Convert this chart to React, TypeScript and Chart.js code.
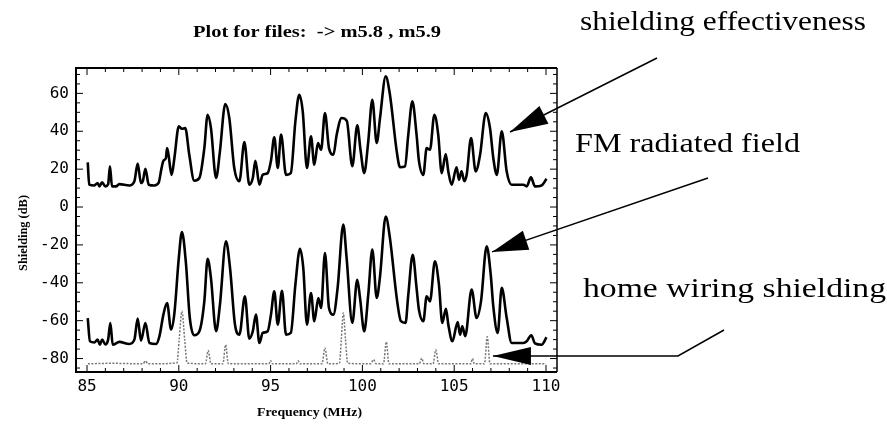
import React, { useEffect, useRef } from 'react';
import { Chart, registerables } from 'chart.js';

Chart.register(...registerables);

// ---- data (frequency in MHz, level in dB) ----
const seFreq = [85.04, 85.12, 85.4, 85.58, 85.67, 85.82, 86.0, 86.15, 86.25, 86.36, 86.58, 86.76, 87.3, 87.58, 87.76, 87.94, 88.05, 88.18, 88.36, 88.67, 88.9, 89.05, 89.16, 89.3, 89.36, 89.45, 89.52, 89.61, 89.76, 90.0, 90.17, 90.35, 90.57, 90.84, 91.12, 91.39, 91.57, 91.75, 92.03, 92.24, 92.53, 92.75, 93.02, 93.3, 93.57, 93.84, 94.03, 94.17, 94.39, 94.57, 94.84, 95.02, 95.2, 95.39, 95.57, 95.84, 96.1, 96.35, 96.56, 96.75, 96.98, 97.2, 97.38, 97.58, 97.75, 97.96, 98.18, 98.42, 98.6, 98.87, 99.15, 99.45, 99.72, 99.9, 100.1, 100.32, 100.54, 100.78, 100.96, 101.27, 101.5, 101.87, 102.05, 102.32, 102.5, 102.72, 102.95, 103.08, 103.32, 103.5, 103.68, 103.92, 104.13, 104.32, 104.54, 104.68, 104.86, 105.13, 105.26, 105.4, 105.55, 105.68, 105.92, 106.17, 106.41, 106.72, 106.95, 107.13, 107.32, 107.59, 107.86, 108.13, 108.77, 108.95, 109.18, 109.4, 109.76, 110.03];
const seDb = [23.6, 11.8, 11.4, 12.7, 10.9, 13.0, 10.9, 12.0, 21.5, 10.9, 10.9, 12.1, 11.4, 13.6, 22.9, 12.7, 14.0, 20.2, 11.8, 11.4, 12.7, 20.0, 24.4, 26.0, 31.1, 27.0, 21.5, 17.0, 25.9, 42.6, 41.3, 41.7, 27.6, 13.9, 15.3, 31.1, 48.7, 41.7, 15.3, 29.4, 54.4, 47.0, 20.6, 13.6, 34.3, 11.8, 15.3, 24.4, 11.8, 17.0, 17.9, 24.4, 36.8, 20.6, 38.2, 17.0, 17.9, 45.2, 59.3, 50.5, 20.6, 37.3, 22.3, 33.8, 30.2, 49.6, 31.1, 27.6, 38.2, 47.0, 45.5, 21.5, 43.1, 30.0, 17.9, 34.7, 56.6, 33.8, 47.0, 69.0, 59.3, 29.4, 21.0, 21.5, 38.2, 55.8, 38.2, 24.4, 17.0, 31.1, 30.2, 48.7, 38.2, 17.9, 28.0, 18.8, 11.8, 21.0, 14.4, 18.8, 13.6, 17.0, 36.4, 18.8, 27.6, 49.6, 41.7, 25.9, 17.0, 40.0, 18.8, 11.8, 11.8, 10.9, 15.7, 10.9, 11.4, 14.9];

const fmFreq = [85.04, 85.16, 85.4, 85.58, 85.7, 85.82, 86.0, 86.15, 86.27, 86.4, 86.76, 87.3, 87.58, 87.76, 87.94, 88.18, 88.4, 88.76, 88.95, 89.16, 89.36, 89.58, 89.76, 90.0, 90.17, 90.38, 90.6, 90.84, 91.12, 91.39, 91.57, 91.75, 92.03, 92.24, 92.57, 92.79, 93.06, 93.3, 93.6, 93.84, 94.03, 94.2, 94.39, 94.57, 94.84, 95.02, 95.2, 95.39, 95.62, 95.84, 96.1, 96.35, 96.6, 96.78, 96.98, 97.2, 97.38, 97.6, 97.75, 97.96, 98.18, 98.42, 98.65, 98.96, 99.14, 99.45, 99.72, 99.87, 100.1, 100.32, 100.54, 100.78, 100.96, 101.27, 101.5, 101.87, 102.1, 102.35, 102.5, 102.74, 102.95, 103.08, 103.32, 103.5, 103.68, 103.95, 104.17, 104.35, 104.55, 104.68, 104.9, 105.19, 105.32, 105.44, 105.6, 105.95, 106.22, 106.46, 106.77, 106.99, 107.13, 107.37, 107.59, 107.86, 108.13, 108.77, 108.95, 109.2, 109.4, 109.76, 110.03];
const fmDb = [-58.6, -70.9, -71.5, -70.0, -72.7, -70.0, -72.5, -70.0, -61.2, -72.7, -71.2, -72.3, -70.0, -58.9, -70.6, -61.2, -71.8, -72.3, -68.0, -56.8, -50.7, -64.7, -56.0, -26.9, -13.2, -28.7, -58.6, -67.7, -65.6, -49.8, -27.3, -37.5, -65.6, -51.5, -18.1, -32.2, -62.1, -67.4, -47.1, -69.5, -65.6, -56.8, -71.8, -66.5, -65.6, -56.8, -44.5, -62.1, -44.2, -67.4, -66.5, -41.0, -22.0, -32.2, -62.1, -45.4, -60.3, -48.0, -53.3, -24.3, -53.3, -56.8, -42.7, -9.3, -26.9, -61.2, -38.4, -48.0, -65.6, -46.3, -22.5, -48.0, -36.6, -5.0, -16.4, -48.0, -60.3, -61.2, -46.3, -25.2, -42.7, -54.2, -60.3, -47.1, -49.8, -28.7, -41.0, -61.2, -53.7, -62.1, -70.9, -60.7, -67.4, -63.0, -68.2, -43.6, -58.6, -49.8, -20.7, -35.7, -52.4, -66.5, -42.7, -58.6, -71.8, -71.8, -70.9, -67.7, -72.0, -72.7, -68.8];

const hwFreq = [85.05, 86.3, 88.05, 88.18, 88.32, 89.9, 90.02, 90.17, 90.32, 90.45, 91.45, 91.6, 91.75, 92.4, 92.55, 92.7, 94.9, 95.0, 95.1, 96.4, 96.5, 96.6, 97.8, 97.96, 98.12, 98.75, 98.85, 98.96, 99.08, 99.2, 100.45, 100.6, 100.75, 101.15, 101.3, 101.45, 103.1, 103.23, 103.35, 103.85, 104.0, 104.15, 105.9, 106.0, 106.1, 106.65, 106.8, 106.95, 110.0];
const hwDb = [-82.8, -82.5, -82.8, -81.3, -82.8, -82.3, -70.0, -55.0, -70.0, -82.3, -82.8, -75.8, -82.8, -82.8, -72.7, -82.8, -82.8, -81.0, -82.8, -82.8, -81.2, -82.8, -82.8, -74.4, -82.8, -82.5, -70.0, -56.0, -70.0, -82.5, -82.8, -80.5, -82.8, -82.8, -71.2, -82.8, -82.8, -79.8, -82.8, -82.8, -75.4, -82.8, -82.8, -80.0, -82.8, -82.8, -68.5, -82.8, -82.8];

const xTickValues = [85, 90, 95, 100, 105, 110];
const yTickValues = [-80, -60, -40, -20, 0, 20, 40, 60];

const titleText = 'Plot for files:  -> m5.8 , m5.9';
const xTitleText = 'Frequency (MHz)';
const yTitleText = 'Shielding (dB)';
const seLabel = 'shielding effectiveness';
const fmLabel = 'FM radiated field';
const hwLabel = 'home wiring shielding';

function pts(xs: number[], ys: number[]) {
  return xs.map((x, i) => ({ x, y: ys[i] }));
}

function fitText(ctx: CanvasRenderingContext2D, text: string, left: number, baseline: number, width: number, font: string) {
  ctx.save();
  ctx.font = font;
  const w = ctx.measureText(text).width;
  ctx.translate(left, baseline);
  ctx.scale(width / w, 1);
  ctx.textAlign = 'left';
  ctx.textBaseline = 'alphabetic';
  ctx.fillStyle = '#000';
  ctx.fillText(text, 0, 0);
  ctx.restore();
}

function arrowHead(ctx: CanvasRenderingContext2D, fx: number, fy: number, tx: number, ty: number, len: number, half: number) {
  const a = Math.atan2(ty - fy, tx - fx);
  const bx = tx - len * Math.cos(a);
  const by = ty - len * Math.sin(a);
  ctx.beginPath();
  ctx.moveTo(tx, ty);
  ctx.lineTo(bx + half * Math.sin(a), by - half * Math.cos(a));
  ctx.lineTo(bx - half * Math.sin(a), by + half * Math.cos(a));
  ctx.closePath();
  ctx.fill();
}

const decor = {
  id: 'decor',
  afterDraw(chart: any) {
    const ctx: CanvasRenderingContext2D = chart.ctx;
    const { left, right, top, bottom } = chart.chartArea;
    const xs = chart.scales.x;
    const ys = chart.scales.y;
    ctx.save();
    ctx.strokeStyle = '#000';
    ctx.fillStyle = '#000';
    // frame
    ctx.lineWidth = 2;
    ctx.beginPath();
    ctx.moveTo(right, top);
    ctx.lineTo(left, top);
    ctx.lineTo(left, bottom);
    ctx.lineTo(right, bottom);
    ctx.stroke();
    ctx.lineWidth = 1.5;
    ctx.beginPath();
    ctx.moveTo(right, top);
    ctx.lineTo(right, bottom);
    ctx.stroke();
    // ticks inside
    ctx.lineWidth = 1;
    for (let v = 85; v <= 110; v += 1) {
      const px = xs.getPixelForValue(v);
      const len = v % 5 === 0 ? 7 : 4;
      ctx.beginPath();
      ctx.moveTo(px, bottom); ctx.lineTo(px, bottom - len);
      ctx.moveTo(px, top); ctx.lineTo(px, top + len);
      ctx.stroke();
    }
    for (let v = -85; v <= 70; v += 5) {
      const py = ys.getPixelForValue(v);
      const len = v % 20 === 0 ? 7 : 4;
      ctx.beginPath();
      ctx.moveTo(left, py); ctx.lineTo(left + len, py);
      ctx.moveTo(right, py); ctx.lineTo(right - len, py);
      ctx.stroke();
    }
    // titles
    fitText(ctx, titleText, 193, 37, 248, 'bold 17px "Liberation Serif", "Times New Roman", serif');
    fitText(ctx, xTitleText, 257, 416, 105, 'bold 13px "Liberation Serif", "Times New Roman", serif');
    ctx.save();
    ctx.translate(27, 233);
    ctx.rotate(-Math.PI / 2);
    fitText(ctx, yTitleText, -38, 0, 76, 'bold 12px "Liberation Serif", "Times New Roman", serif');
    ctx.restore();
    // annotations
    const af = '27px "Liberation Serif", "Times New Roman", serif';
    fitText(ctx, seLabel, 580, 30, 286, af);
    fitText(ctx, fmLabel, 575, 152, 225, af);
    fitText(ctx, hwLabel, 583, 297, 303, af);
    // arrows (tips anchored in data coordinates)
    ctx.lineWidth = 1.5;
    const seTip = { x: xs.getPixelForValue(108.04), y: ys.getPixelForValue(39.6) };
    const fmTip = { x: xs.getPixelForValue(107.06), y: ys.getPixelForValue(-23.7) };
    const hwTip = { x: xs.getPixelForValue(107.11), y: ys.getPixelForValue(-78.6) };
    ctx.beginPath();
    ctx.moveTo(657, 58); ctx.lineTo(seTip.x, seTip.y);
    ctx.stroke();
    arrowHead(ctx, 657, 58, seTip.x, seTip.y, 38, 10);
    ctx.beginPath();
    ctx.moveTo(708, 178); ctx.lineTo(fmTip.x, fmTip.y);
    ctx.stroke();
    arrowHead(ctx, 708, 178, fmTip.x, fmTip.y, 36, 10);
    ctx.beginPath();
    ctx.moveTo(724, 330); ctx.lineTo(678, hwTip.y); ctx.lineTo(hwTip.x, hwTip.y);
    ctx.stroke();
    arrowHead(ctx, 678, hwTip.y, hwTip.x, hwTip.y, 38, 9);
    ctx.restore();
  },
};

export default function App() {
  const ref = useRef<HTMLCanvasElement>(null);
  useEffect(() => {
    const chart = new Chart(ref.current!, {
      type: 'line',
      data: {
        datasets: [
          { label: 'home wiring shielding', data: pts(hwFreq, hwDb), borderColor: '#777', borderWidth: 1.5, borderDash: [2, 1.5], pointRadius: 0, cubicInterpolationMode: 'monotone', fill: false },
          { label: 'FM radiated field', data: pts(fmFreq, fmDb), borderColor: '#000', borderWidth: 2.6, pointRadius: 0, cubicInterpolationMode: 'monotone', fill: false },
          { label: 'shielding effectiveness', data: pts(seFreq, seDb), borderColor: '#000', borderWidth: 2.6, pointRadius: 0, cubicInterpolationMode: 'monotone', fill: false },
        ],
      },
      options: {
        animation: false,
        responsive: true,
        maintainAspectRatio: false,
        layout: { padding: { top: 68, right: 330, left: 0, bottom: 0 } },
        plugins: { legend: { display: false }, tooltip: { enabled: false }, title: { display: false } },
        scales: {
          x: {
            type: 'linear', min: 84.4, max: 110.6,
            grid: { display: false, drawTicks: false }, border: { display: false },
            afterBuildTicks: (s: any) => { s.ticks = xTickValues.map((v) => ({ value: v })); },
            afterFit: (s: any) => { s.height = 57; },
            ticks: { padding: 5, autoSkip: false, maxRotation: 0, color: '#000', font: { family: '"DejaVu Sans Mono", monospace', size: 16 } },
          },
          y: {
            type: 'linear', min: -87.1, max: 73.4,
            grid: { display: false, drawTicks: false }, border: { display: false },
            afterBuildTicks: (s: any) => { s.ticks = yTickValues.map((v) => ({ value: v })); },
            afterFit: (s: any) => { s.width = 76; },
            ticks: { padding: 7, autoSkip: false, color: '#000', font: { family: '"DejaVu Sans Mono", monospace', size: 16 }, callback: (v: any) => String(v) },
          },
        },
      },
      plugins: [decor],
    } as any);
    return () => chart.destroy();
  }, []);
  return (
    <div style={{ position: 'fixed', left: 0, top: 0, width: 887, height: 429, background: '#fff' }}>
      <canvas ref={ref} />
    </div>
  );
}
